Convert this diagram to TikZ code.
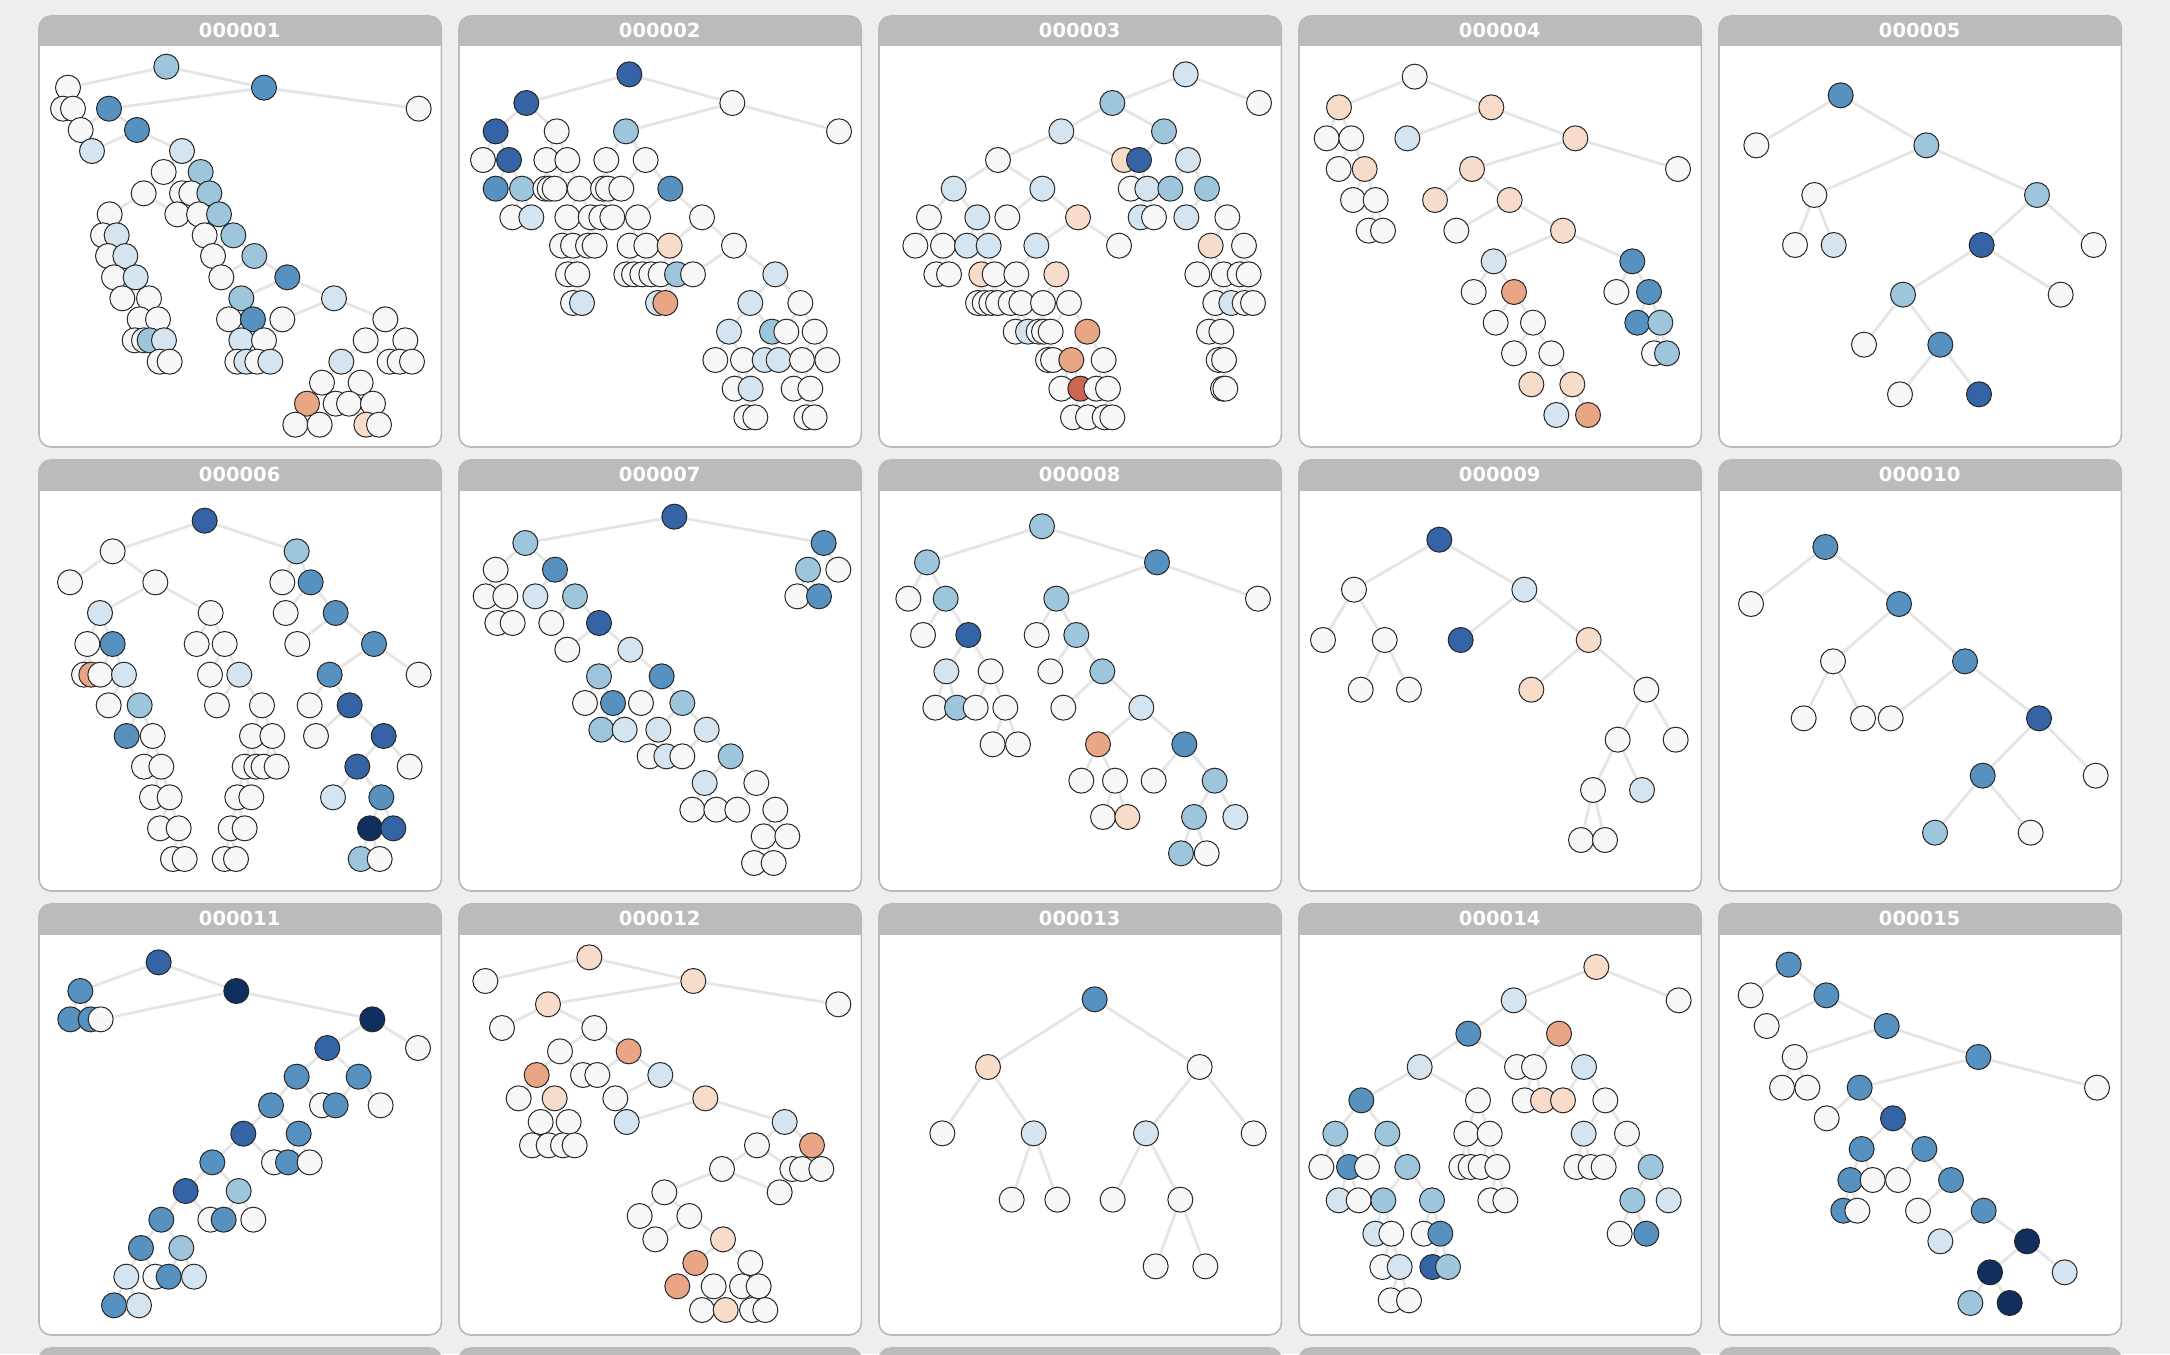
\documentclass[tikz,border=0pt]{standalone}
\usepackage{fontspec}
\setmainfont{DejaVu Sans}
\definecolor{colW}{HTML}{F7F7F7}
\definecolor{colB1}{HTML}{D4E4F0}
\definecolor{colB2}{HTML}{9DC6DD}
\definecolor{colB3}{HTML}{5691BF}
\definecolor{colB4}{HTML}{3464A6}
\definecolor{colB5}{HTML}{102F5E}
\definecolor{colR1}{HTML}{F7DCC9}
\definecolor{colR2}{HTML}{E8A684}
\definecolor{colR3}{HTML}{CB6651}
\definecolor{colE}{HTML}{E5E5E5}
\definecolor{bgcol}{HTML}{EEEEEE}
\definecolor{headgray}{HTML}{BBBBBB}
\definecolor{framegray}{HTML}{B9B9B9}
\pgfdeclarelayer{bgl}
\pgfdeclarelayer{edl}
\pgfsetlayers{bgl,edl,main}
\tikzset{
  nd/.style={circle,draw=black!85,line width=1pt,minimum size=25pt,inner sep=0pt},
  nw/.style={nd,fill=colW}, nb1/.style={nd,fill=colB1}, nb2/.style={nd,fill=colB2},
  nb3/.style={nd,fill=colB3}, nb4/.style={nd,fill=colB4}, nb5/.style={nd,fill=colB5},
  nr1/.style={nd,fill=colR1}, nr2/.style={nd,fill=colR2}, nr3/.style={nd,fill=colR3},
  edge/.style={draw=colE,line width=2.8pt},
  ttl/.style={text=white,font=\bfseries\fontsize{19.5}{20}\selectfont,inner sep=0pt},
  pscope/.style={x=0.333333pt,y=-0.333333pt}
}
\makeatletter
\newcommand\edgelist{}
\newcommand\rootnd[3]{\node[#2] (#1) at (#3) {};}
\newcommand\kid[4]{\node[#3] (#1) at (#4) {};\g@addto@macro\edgelist{\draw[edge] (#2) -- (#1);}}
\makeatother
\newcommand\panelframe[3]{%
  \begin{scope}[shift={(#1,#2)},pscope]
  \fill[white,rounded corners=12pt] (3,3) rectangle (1210,1296);
  \begin{scope}\clip (0,0) rectangle (1215,93);
  \fill[headgray,rounded corners=12pt] (3,3) rectangle (1210,400);
  \end{scope}
  \draw[framegray,line width=1.6pt,rounded corners=12pt] (3,3) rectangle (1210,1296);
  \node[ttl] at (605,47) {#3};
  \end{scope}}
\begin{document}
\begin{tikzpicture}[x=1pt,y=-1pt]
\useasboundingbox (0,0) rectangle (2170,1354);
\begin{pgfonlayer}{bgl}
\fill[bgcol] (0,0) rectangle (2170,1354);
\panelframe{38}{15}{000001}
\panelframe{458}{15}{000002}
\panelframe{878}{15}{000003}
\panelframe{1298}{15}{000004}
\panelframe{1718}{15}{000005}
\panelframe{38}{459}{000006}
\panelframe{458}{459}{000007}
\panelframe{878}{459}{000008}
\panelframe{1298}{459}{000009}
\panelframe{1718}{459}{000010}
\panelframe{38}{903}{000011}
\panelframe{458}{903}{000012}
\panelframe{878}{903}{000013}
\panelframe{1298}{903}{000014}
\panelframe{1718}{903}{000015}
\panelframe{38}{1347}{}
\panelframe{458}{1347}{}
\panelframe{878}{1347}{}
\panelframe{1298}{1347}{}
\panelframe{1718}{1347}{}
\end{pgfonlayer}
% ---------- panel 1
\begin{scope}[shift={(38,15)},pscope]
\rootnd{a0}{nb2}{385,155}
\kid{a1a}{a0}{nw}{90,218}
\kid{a1b}{a0}{nb3}{678,218}
\kid{a2a}{a1a}{nw}{75,281}
\kid{a2b}{a1a}{nw}{105,281}
\kid{a2c}{a1b}{nb3}{213,281}
\kid{a2d}{a1b}{nw}{1142,281}
\kid{a3a}{a2c}{nw}{128,345}
\kid{a3b}{a2c}{nb3}{297,345}
\kid{a4a}{a3b}{nb1}{162,408}
\kid{a4b}{a3b}{nb1}{432,408}
\kid{a5a}{a4b}{nw}{377,471}
\kid{a5b}{a4b}{nb2}{488,471}
\kid{a6a}{a5a}{nw}{317,535}
\kid{a6b}{a5a}{nw}{432,535}
\kid{a6c}{a5b}{nw}{460,535}
\kid{a6d}{a5b}{nb2}{514,535}
\kid{a7a}{a6a}{nw}{215,598}
\kid{a7b}{a6a}{nw}{418,598}
\kid{a7c}{a6d}{nw}{483,598}
\kid{a7d}{a6d}{nb2}{543,598}
\kid{a8a}{a7a}{nw}{195,661}
\kid{a8b}{a7a}{nb1}{236,661}
\kid{a8c}{a7d}{nw}{500,661}
\kid{a8d}{a7d}{nb2}{586,661}
\kid{a9a}{a8b}{nw}{210,723}
\kid{a9b}{a8b}{nb1}{262,723}
\kid{a9c}{a8d}{nw}{525,723}
\kid{a9d}{a8d}{nb2}{649,723}
\kid{a10a}{a9b}{nw}{228,787}
\kid{a10b}{a9b}{nb1}{293,787}
\kid{a10c}{a9d}{nw}{550,787}
\kid{a10d}{a9d}{nb3}{748,787}
\kid{a11a}{a10b}{nw}{253,850}
\kid{a11b}{a10b}{nw}{333,850}
\kid{a11c}{a10d}{nb2}{610,850}
\kid{a11d}{a10d}{nb1}{888,850}
\kid{a12a}{a11b}{nw}{305,913}
\kid{a12b}{a11b}{nw}{360,913}
\kid{a12c}{a11c}{nw}{573,913}
\kid{a12d}{a11c}{nb3}{645,913}
\kid{a12e}{a11d}{nw}{733,913}
\kid{a12f}{a11d}{nw}{1042,913}
\kid{a13a}{a12a}{nw}{290,976}
\kid{a13b}{a12a}{nw}{318,976}
\kid{a13c}{a12b}{nb2}{335,976}
\kid{a13d}{a12b}{nb1}{378,976}
\kid{a13e}{a12d}{nb1}{610,976}
\kid{a13f}{a12d}{nw}{678,976}
\kid{a13g}{a12f}{nw}{983,976}
\kid{a13h}{a12f}{nw}{1102,976}
\kid{a14a}{a13d}{nw}{365,1040}
\kid{a14b}{a13d}{nw}{395,1040}
\kid{a14c}{a13e}{nw}{598,1040}
\kid{a14d}{a13e}{nb1}{625,1040}
\kid{a14e}{a13f}{nw}{658,1040}
\kid{a14f}{a13f}{nb1}{697,1040}
\kid{a14g}{a13g}{nb1}{910,1040}
\kid{a14h}{a13g}{nw}{1055,1040}
\kid{a14i}{a13h}{nw}{1085,1040}
\kid{a14j}{a13h}{nw}{1122,1040}
\kid{a15a}{a14g}{nw}{852,1103}
\kid{a15b}{a14g}{nw}{968,1103}
\kid{a16a}{a15a}{nr2}{807,1166}
\kid{a16b}{a15a}{nw}{893,1166}
\kid{a16c}{a15b}{nw}{933,1166}
\kid{a16d}{a15b}{nw}{1005,1166}
\kid{a17a}{a16a}{nw}{772,1229}
\kid{a17b}{a16a}{nw}{845,1229}
\kid{a17c}{a16d}{nr1}{985,1229}
\kid{a17d}{a16d}{nw}{1023,1229}
\end{scope}
% ---------- panel 2
\begin{scope}[shift={(458,15)},pscope]
\rootnd{b0}{nb4}{514,178}
\kid{b1a}{b0}{nb4}{205,264}
\kid{b1b}{b0}{nw}{823,264}
\kid{b2a}{b1a}{nb4}{113,349}
\kid{b2b}{b1a}{nw}{296,349}
\kid{b2c}{b1b}{nb2}{504,349}
\kid{b2d}{b1b}{nw}{1143,349}
\kid{b3a}{b2a}{nw}{75,435}
\kid{b3b}{b2a}{nb4}{153,435}
\kid{b3c}{b2b}{nw}{265,435}
\kid{b3d}{b2b}{nw}{328,435}
\kid{b3e}{b2c}{nw}{445,435}
\kid{b3f}{b2c}{nw}{563,435}
\kid{b4a}{b3b}{nb3}{113,521}
\kid{b4b}{b3b}{nb2}{192,521}
\kid{b4c}{b3c}{nw}{262,521}
\kid{b4d}{b3c}{nw}{275,521}
\kid{b4e}{b3d}{nw}{290,521}
\kid{b4f}{b3d}{nw}{365,521}
\kid{b4g}{b3e}{nw}{435,521}
\kid{b4h}{b3e}{nw}{450,521}
\kid{b4i}{b3f}{nw}{490,521}
\kid{b4j}{b3f}{nb3}{637,521}
\kid{b5a}{b4b}{nw}{163,607}
\kid{b5b}{b4b}{nb1}{220,607}
\kid{b5c}{b4f}{nw}{328,607}
\kid{b5d}{b4f}{nw}{398,607}
\kid{b5e}{b4h}{nw}{430,607}
\kid{b5f}{b4h}{nw}{463,607}
\kid{b5g}{b4j}{nw}{540,607}
\kid{b5h}{b4j}{nw}{732,607}
\kid{b6a}{b5c}{nw}{312,692}
\kid{b6b}{b5c}{nw}{345,692}
\kid{b6c}{b5d}{nw}{390,692}
\kid{b6d}{b5d}{nw}{410,692}
\kid{b6e}{b5g}{nw}{515,692}
\kid{b6f}{b5g}{nw}{565,692}
\kid{b6g}{b5h}{nr1}{635,692}
\kid{b6h}{b5h}{nw}{828,692}
\kid{b7a}{b6b}{nw}{330,778}
\kid{b7b}{b6b}{nw}{358,778}
\kid{b7c}{b6e}{nw}{505,778}
\kid{b7d}{b6e}{nw}{528,778}
\kid{b7e}{b6f}{nw}{553,778}
\kid{b7f}{b6f}{nw}{580,778}
\kid{b7g}{b6g}{nw}{608,778}
\kid{b7h}{b6g}{nb2}{657,778}
\kid{b7i}{b6h}{nw}{705,778}
\kid{b7j}{b6h}{nb1}{952,778}
\kid{b8a}{b7b}{nw}{345,864}
\kid{b8b}{b7b}{nb1}{372,864}
\kid{b8c}{b7h}{nb1}{600,864}
\kid{b8d}{b7h}{nr2}{622,864}
\kid{b8e}{b7j}{nb1}{877,864}
\kid{b8f}{b7j}{nw}{1027,864}
\kid{b9a}{b8e}{nb1}{813,950}
\kid{b9b}{b8e}{nb2}{942,950}
\kid{b9c}{b8f}{nw}{985,950}
\kid{b9d}{b8f}{nw}{1070,950}
\kid{b10a}{b9a}{nw}{772,1035}
\kid{b10b}{b9a}{nw}{855,1035}
\kid{b10c}{b9b}{nb1}{920,1035}
\kid{b10d}{b9b}{nb1}{962,1035}
\kid{b10e}{b9d}{nw}{1032,1035}
\kid{b10f}{b9d}{nw}{1108,1035}
\kid{b11a}{b10b}{nw}{830,1121}
\kid{b11b}{b10b}{nb1}{878,1121}
\kid{b11c}{b10e}{nw}{1007,1121}
\kid{b11d}{b10e}{nw}{1057,1121}
\kid{b12a}{b11b}{nw}{865,1207}
\kid{b12b}{b11b}{nw}{892,1207}
\kid{b12c}{b11d}{nw}{1045,1207}
\kid{b12d}{b11d}{nw}{1070,1207}
\end{scope}
% ---------- panel 3
\begin{scope}[shift={(878,15)},pscope]
\rootnd{c0}{nb1}{923,178}
\kid{c1a}{c0}{nb2}{703,264}
\kid{c1b}{c0}{nw}{1143,264}
\kid{c2a}{c1a}{nb1}{550,349}
\kid{c2b}{c1a}{nb2}{858,349}
\kid{c3a}{c2a}{nw}{360,435}
\kid{c3b}{c2a}{nr1}{738,435}
\kid{c3c}{c2b}{nb4}{783,435}
\kid{c3d}{c2b}{nb1}{930,435}
\kid{c4a}{c3a}{nb1}{227,521}
\kid{c4b}{c3a}{nb1}{493,521}
\kid{c4c}{c3c}{nw}{758,521}
\kid{c4d}{c3c}{nb1}{808,521}
\kid{c4e}{c3d}{nb2}{877,521}
\kid{c4f}{c3d}{nb2}{987,521}
\kid{c5a}{c4a}{nw}{153,607}
\kid{c5b}{c4a}{nb1}{298,607}
\kid{c5c}{c4b}{nw}{388,607}
\kid{c5d}{c4b}{nr1}{600,607}
\kid{c5e}{c4d}{nb1}{788,607}
\kid{c5f}{c4d}{nw}{828,607}
\kid{c5g}{c4f}{nb1}{925,607}
\kid{c5h}{c4f}{nw}{1048,607}
\kid{c6a}{c5a}{nw}{112,692}
\kid{c6b}{c5a}{nw}{195,692}
\kid{c6c}{c5b}{nb1}{267,692}
\kid{c6d}{c5b}{nb1}{332,692}
\kid{c6e}{c5d}{nb1}{475,692}
\kid{c6f}{c5d}{nw}{723,692}
\kid{c6g}{c5h}{nr1}{998,692}
\kid{c6h}{c5h}{nw}{1098,692}
\kid{c7a}{c6b}{nw}{175,778}
\kid{c7b}{c6b}{nw}{213,778}
\kid{c7c}{c6d}{nr1}{310,778}
\kid{c7d}{c6d}{nw}{350,778}
\kid{c7e}{c6e}{nw}{415,778}
\kid{c7f}{c6e}{nr1}{535,778}
\kid{c7g}{c6g}{nw}{958,778}
\kid{c7h}{c6g}{nw}{1037,778}
\kid{c7i}{c6h}{nw}{1085,778}
\kid{c7j}{c6h}{nw}{1112,778}
\kid{c8a}{c7c}{nw}{300,864}
\kid{c8b}{c7c}{nw}{320,864}
\kid{c8c}{c7d}{nw}{340,864}
\kid{c8d}{c7d}{nw}{360,864}
\kid{c8e}{c7e}{nw}{398,864}
\kid{c8f}{c7e}{nw}{430,864}
\kid{c8g}{c7f}{nw}{495,864}
\kid{c8h}{c7f}{nw}{573,864}
\kid{c8i}{c7h}{nw}{1012,864}
\kid{c8j}{c7h}{nb1}{1060,864}
\kid{c8k}{c7j}{nw}{1100,864}
\kid{c8l}{c7j}{nw}{1125,864}
\kid{c9a}{c8f}{nw}{413,950}
\kid{c9b}{c8f}{nb1}{450,950}
\kid{c9c}{c8g}{nw}{482,950}
\kid{c9d}{c8g}{nw}{498,950}
\kid{c9e}{c8h}{nw}{518,950}
\kid{c9f}{c8h}{nr2}{628,950}
\kid{c9g}{c8i}{nw}{993,950}
\kid{c9h}{c8i}{nw}{1030,950}
\kid{c10a}{c9e}{nw}{510,1035}
\kid{c10b}{c9e}{nw}{525,1035}
\kid{c10c}{c9f}{nr2}{580,1035}
\kid{c10d}{c9f}{nw}{677,1035}
\kid{c10e}{c9h}{nw}{1022,1035}
\kid{c10f}{c9h}{nw}{1038,1035}
\kid{c11a}{c10c}{nw}{550,1121}
\kid{c11b}{c10c}{nr3}{607,1121}
\kid{c11c}{c10d}{nw}{655,1121}
\kid{c11d}{c10d}{nw}{690,1121}
\kid{c11e}{c10f}{nw}{1035,1121}
\kid{c11f}{c10f}{nw}{1042,1121}
\kid{c12a}{c11b}{nw}{585,1207}
\kid{c12b}{c11b}{nw}{630,1207}
\kid{c12c}{c11d}{nw}{680,1207}
\kid{c12d}{c11d}{nw}{703,1207}
\end{scope}
% ---------- panel 4
\begin{scope}[shift={(1298,15)},pscope]
\rootnd{d0}{nw}{350,185}
\kid{d1a}{d0}{nr1}{123,277}
\kid{d1b}{d0}{nr1}{580,277}
\kid{d2a}{d1a}{nw}{86,370}
\kid{d2b}{d1a}{nw}{160,370}
\kid{d2c}{d1b}{nb1}{328,370}
\kid{d2d}{d1b}{nr1}{832,370}
\kid{d3a}{d2b}{nw}{122,462}
\kid{d3b}{d2b}{nr1}{200,462}
\kid{d3c}{d2d}{nr1}{522,462}
\kid{d3d}{d2d}{nw}{1140,462}
\kid{d4a}{d3b}{nw}{165,555}
\kid{d4b}{d3b}{nw}{233,555}
\kid{d4c}{d3c}{nr1}{411,555}
\kid{d4d}{d3c}{nr1}{635,555}
\kid{d5a}{d4b}{nw}{212,647}
\kid{d5b}{d4b}{nw}{255,647}
\kid{d5c}{d4d}{nw}{475,647}
\kid{d5d}{d4d}{nr1}{795,647}
\kid{d6a}{d5d}{nb1}{587,739}
\kid{d6b}{d5d}{nb3}{1003,739}
\kid{d7a}{d6a}{nw}{527,831}
\kid{d7b}{d6a}{nr2}{648,831}
\kid{d7c}{d6b}{nw}{955,831}
\kid{d7d}{d6b}{nb3}{1053,831}
\kid{d8a}{d7b}{nw}{593,923}
\kid{d8b}{d7b}{nw}{705,923}
\kid{d8c}{d7d}{nb3}{1018,923}
\kid{d8d}{d7d}{nb2}{1087,923}
\kid{d9a}{d8b}{nw}{648,1015}
\kid{d9b}{d8b}{nw}{760,1015}
\kid{d9c}{d8d}{nw}{1068,1015}
\kid{d9d}{d8d}{nb2}{1107,1015}
\kid{d10a}{d9b}{nr1}{700,1108}
\kid{d10b}{d9b}{nr1}{823,1108}
\kid{d11a}{d10b}{nb1}{775,1200}
\kid{d11b}{d10b}{nr2}{870,1200}
\end{scope}
% ---------- panel 5
\begin{scope}[shift={(1718,15)},pscope]
\rootnd{e0}{nb3}{368,241}
\kid{e1a}{e0}{nw}{115,391}
\kid{e1b}{e0}{nb2}{625,391}
\kid{e2a}{e1b}{nw}{289,540}
\kid{e2b}{e1b}{nb2}{957,540}
\kid{e3a}{e2a}{nw}{231,690}
\kid{e3b}{e2a}{nb1}{347,690}
\kid{e3c}{e2b}{nb4}{791,690}
\kid{e3d}{e2b}{nw}{1127,690}
\kid{e4a}{e3c}{nb2}{555,839}
\kid{e4b}{e3c}{nw}{1028,839}
\kid{e5a}{e4a}{nw}{438,989}
\kid{e5b}{e4a}{nb3}{667,989}
\kid{e6a}{e5b}{nw}{546,1138}
\kid{e6b}{e5b}{nb4}{783,1138}
\end{scope}
% ---------- panel 6
\begin{scope}[shift={(38,459)},pscope]
\rootnd{f0}{nb4}{500,185}
\kid{f1a}{f0}{nw}{224,277}
\kid{f1b}{f0}{nb2}{776,277}
\kid{f2a}{f1a}{nw}{96,370}
\kid{f2b}{f1a}{nw}{352,370}
\kid{f2c}{f1b}{nw}{733,370}
\kid{f2d}{f1b}{nb3}{818,370}
\kid{f3a}{f2b}{nb1}{186,462}
\kid{f3b}{f2b}{nw}{518,462}
\kid{f3c}{f2d}{nw}{743,462}
\kid{f3d}{f2d}{nb3}{893,462}
\kid{f4a}{f3a}{nw}{148,555}
\kid{f4b}{f3a}{nb3}{224,555}
\kid{f4c}{f3b}{nw}{476,555}
\kid{f4d}{f3b}{nw}{560,555}
\kid{f4e}{f3d}{nw}{778,555}
\kid{f4f}{f3d}{nb3}{1008,555}
\kid{f5a}{f4a}{nw}{138,647}
\kid{f5b}{f4a}{nr2}{160,647}
\kid{f5c}{f4b}{nw}{187,647}
\kid{f5d}{f4b}{nb1}{258,647}
\kid{f5e}{f4d}{nw}{516,647}
\kid{f5f}{f4d}{nb1}{604,647}
\kid{f5g}{f4f}{nb3}{875,647}
\kid{f5h}{f4f}{nw}{1142,647}
\kid{f6a}{f5d}{nw}{212,739}
\kid{f6b}{f5d}{nb2}{305,739}
\kid{f6c}{f5f}{nw}{537,739}
\kid{f6d}{f5f}{nw}{672,739}
\kid{f6e}{f5g}{nw}{815,739}
\kid{f6f}{f5g}{nb4}{935,739}
\kid{f7a}{f6b}{nb3}{266,831}
\kid{f7b}{f6b}{nw}{344,831}
\kid{f7c}{f6d}{nw}{642,831}
\kid{f7d}{f6d}{nw}{703,831}
\kid{f7e}{f6f}{nw}{834,831}
\kid{f7f}{f6f}{nb4}{1037,831}
\kid{f8a}{f7b}{nw}{318,923}
\kid{f8b}{f7b}{nw}{370,923}
\kid{f8c}{f7c}{nw}{620,923}
\kid{f8d}{f7c}{nw}{655,923}
\kid{f8e}{f7d}{nw}{677,923}
\kid{f8f}{f7d}{nw}{716,923}
\kid{f8g}{f7f}{nb4}{958,923}
\kid{f8h}{f7f}{nw}{1115,923}
\kid{f9a}{f8b}{nw}{342,1015}
\kid{f9b}{f8b}{nw}{395,1015}
\kid{f9c}{f8c}{nw}{598,1015}
\kid{f9d}{f8c}{nw}{640,1015}
\kid{f9e}{f8g}{nb1}{885,1015}
\kid{f9f}{f8g}{nb3}{1030,1015}
\kid{f10a}{f9b}{nw}{366,1108}
\kid{f10b}{f9b}{nw}{422,1108}
\kid{f10c}{f9c}{nw}{578,1108}
\kid{f10d}{f9c}{nw}{620,1108}
\kid{f10e}{f9f}{nb5}{996,1108}
\kid{f10f}{f9f}{nb4}{1066,1108}
\kid{f11a}{f10b}{nw}{405,1200}
\kid{f11b}{f10b}{nw}{440,1200}
\kid{f11c}{f10c}{nw}{560,1200}
\kid{f11d}{f10c}{nw}{594,1200}
\kid{f11e}{f10e}{nb2}{968,1200}
\kid{f11f}{f10e}{nw}{1025,1200}
\end{scope}
% ---------- panel 7
\begin{scope}[shift={(458,459)},pscope]
\rootnd{g0}{nb4}{649,173}
\kid{g1a}{g0}{nb2}{202,252}
\kid{g1b}{g0}{nb3}{1097,252}
\kid{g2a}{g1a}{nw}{113,332}
\kid{g2b}{g1a}{nb3}{291,332}
\kid{g2c}{g1b}{nb2}{1050,332}
\kid{g2d}{g1b}{nw}{1141,332}
\kid{g3a}{g2a}{nw}{83,412}
\kid{g3b}{g2a}{nw}{142,412}
\kid{g3c}{g2b}{nb1}{232,412}
\kid{g3d}{g2b}{nb2}{351,412}
\kid{g3e}{g2c}{nw}{1018,412}
\kid{g3f}{g2c}{nb3}{1083,412}
\kid{g4a}{g3b}{nw}{118,492}
\kid{g4b}{g3b}{nw}{164,492}
\kid{g4c}{g3d}{nw}{280,492}
\kid{g4d}{g3d}{nb4}{423,492}
\kid{g5a}{g4d}{nw}{328,572}
\kid{g5b}{g4d}{nb1}{517,572}
\kid{g6a}{g5b}{nb2}{423,652}
\kid{g6b}{g5b}{nb3}{611,652}
\kid{g7a}{g6a}{nw}{381,732}
\kid{g7b}{g6a}{nb3}{465,732}
\kid{g7c}{g6b}{nw}{549,732}
\kid{g7d}{g6b}{nb2}{673,732}
\kid{g8a}{g7b}{nb2}{430,812}
\kid{g8b}{g7b}{nb1}{500,812}
\kid{g8c}{g7d}{nb1}{601,812}
\kid{g8d}{g7d}{nb1}{746,812}
\kid{g9a}{g8c}{nw}{575,892}
\kid{g9b}{g8c}{nb1}{625,892}
\kid{g9c}{g8d}{nw}{673,892}
\kid{g9d}{g8d}{nb2}{818,892}
\kid{g10a}{g9d}{nb1}{740,972}
\kid{g10b}{g9d}{nw}{895,972}
\kid{g11a}{g10a}{nw}{703,1052}
\kid{g11b}{g10a}{nw}{775,1052}
\kid{g11c}{g10b}{nw}{838,1052}
\kid{g11d}{g10b}{nw}{952,1052}
\kid{g12a}{g11d}{nw}{917,1132}
\kid{g12b}{g11d}{nw}{988,1132}
\kid{g13a}{g12a}{nw}{888,1212}
\kid{g13b}{g12a}{nw}{947,1212}
\end{scope}
% ---------- panel 8
\begin{scope}[shift={(878,459)},pscope]
\rootnd{h0}{nb2}{492,202}
\kid{h1a}{h0}{nb2}{147,310}
\kid{h1b}{h0}{nb3}{837,310}
\kid{h2a}{h1a}{nw}{91,419}
\kid{h2b}{h1a}{nb2}{203,419}
\kid{h2c}{h1b}{nb2}{535,419}
\kid{h2d}{h1b}{nw}{1140,419}
\kid{h3a}{h2b}{nw}{135,528}
\kid{h3b}{h2b}{nb4}{271,528}
\kid{h3c}{h2c}{nw}{476,528}
\kid{h3d}{h2c}{nb2}{595,528}
\kid{h4a}{h3b}{nb1}{205,637}
\kid{h4b}{h3b}{nw}{338,637}
\kid{h4c}{h3d}{nw}{517,637}
\kid{h4d}{h3d}{nb2}{673,637}
\kid{h5a}{h4a}{nw}{172,746}
\kid{h5b}{h4a}{nb2}{237,746}
\kid{h5c}{h4b}{nw}{293,746}
\kid{h5d}{h4b}{nw}{382,746}
\kid{h5e}{h4d}{nw}{556,746}
\kid{h5f}{h4d}{nb1}{790,746}
\kid{h6a}{h5d}{nw}{344,856}
\kid{h6b}{h5d}{nw}{420,856}
\kid{h6c}{h5f}{nr2}{660,856}
\kid{h6d}{h5f}{nb3}{919,856}
\kid{h7a}{h6c}{nw}{610,965}
\kid{h7b}{h6c}{nw}{711,965}
\kid{h7c}{h6d}{nw}{827,965}
\kid{h7d}{h6d}{nb2}{1010,965}
\kid{h8a}{h7b}{nw}{675,1074}
\kid{h8b}{h7b}{nr1}{748,1074}
\kid{h8c}{h7d}{nb2}{948,1074}
\kid{h8d}{h7d}{nb1}{1072,1074}
\kid{h9a}{h8c}{nb2}{909,1183}
\kid{h9b}{h8c}{nw}{986,1183}
\end{scope}
% ---------- panel 9
\begin{scope}[shift={(1298,459)},pscope]
\rootnd{i0}{nb4}{424,242}
\kid{i1a}{i0}{nw}{168,392}
\kid{i1b}{i0}{nb1}{679,392}
\kid{i2a}{i1a}{nw}{75,543}
\kid{i2b}{i1a}{nw}{260,543}
\kid{i2c}{i1b}{nb4}{488,543}
\kid{i2d}{i1b}{nr1}{872,543}
\kid{i3a}{i2b}{nw}{188,692}
\kid{i3b}{i2b}{nw}{333,692}
\kid{i3c}{i2d}{nr1}{700,692}
\kid{i3d}{i2d}{nw}{1045,692}
\kid{i4a}{i3d}{nw}{959,842}
\kid{i4b}{i3d}{nw}{1133,842}
\kid{i5a}{i4a}{nw}{885,993}
\kid{i5b}{i4a}{nb1}{1032,993}
\kid{i6a}{i5a}{nw}{849,1143}
\kid{i6b}{i5a}{nw}{921,1143}
\end{scope}
% ---------- panel 10
\begin{scope}[shift={(1718,459)},pscope]
\rootnd{j0}{nb3}{322,264}
\kid{j1a}{j0}{nw}{99,435}
\kid{j1b}{j0}{nb3}{543,435}
\kid{j2a}{j1b}{nw}{345,607}
\kid{j2b}{j1b}{nb3}{741,607}
\kid{j3a}{j2a}{nw}{257,778}
\kid{j3b}{j2a}{nw}{435,778}
\kid{j3c}{j2b}{nw}{518,778}
\kid{j3d}{j2b}{nb4}{963,778}
\kid{j4a}{j3d}{nb3}{794,950}
\kid{j4b}{j3d}{nw}{1133,950}
\kid{j5a}{j4a}{nb2}{651,1121}
\kid{j5b}{j4a}{nw}{938,1121}
\end{scope}
% ---------- panel 11
\begin{scope}[shift={(38,903)},pscope]
\rootnd{k0}{nb4}{362,178}
\kid{k1a}{k0}{nb3}{127,264}
\kid{k1b}{k0}{nb5}{595,264}
\kid{k2a}{k1a}{nb3}{97,349}
\kid{k2b}{k1a}{nb3}{158,349}
\kid{k2c}{k1b}{nw}{188,349}
\kid{k2d}{k1b}{nb5}{1003,349}
\kid{k3a}{k2d}{nb4}{868,435}
\kid{k3b}{k2d}{nw}{1140,435}
\kid{k4a}{k3a}{nb3}{776,521}
\kid{k4b}{k3a}{nb3}{962,521}
\kid{k5a}{k4a}{nb3}{699,607}
\kid{k5b}{k4a}{nw}{852,607}
\kid{k5c}{k4b}{nb3}{893,607}
\kid{k5d}{k4b}{nw}{1028,607}
\kid{k6a}{k5a}{nb4}{616,692}
\kid{k6b}{k5a}{nb3}{782,692}
\kid{k7a}{k6a}{nb3}{523,778}
\kid{k7b}{k6a}{nw}{708,778}
\kid{k7c}{k6b}{nb3}{750,778}
\kid{k7d}{k6b}{nw}{815,778}
\kid{k8a}{k7a}{nb4}{443,864}
\kid{k8b}{k7a}{nb2}{602,864}
\kid{k9a}{k8a}{nb3}{370,950}
\kid{k9b}{k8a}{nw}{517,950}
\kid{k9c}{k8b}{nb3}{557,950}
\kid{k9d}{k8b}{nw}{646,950}
\kid{k10a}{k9a}{nb3}{309,1035}
\kid{k10b}{k9a}{nb2}{430,1035}
\kid{k11a}{k10a}{nb1}{265,1121}
\kid{k11b}{k10a}{nw}{352,1121}
\kid{k11c}{k10b}{nb3}{392,1121}
\kid{k11d}{k10b}{nb1}{468,1121}
\kid{k12a}{k11a}{nb3}{228,1207}
\kid{k12b}{k11a}{nb1}{303,1207}
\end{scope}
% ---------- panel 12
\begin{scope}[shift={(458,903)},pscope]
\rootnd{l0}{nr1}{394,163}
\kid{l1a}{l0}{nw}{82,234}
\kid{l1b}{l0}{nr1}{706,234}
\kid{l2a}{l1b}{nr1}{270,304}
\kid{l2b}{l1b}{nw}{1141,304}
\kid{l3a}{l2a}{nw}{132,375}
\kid{l3b}{l2a}{nw}{409,375}
\kid{l4a}{l3b}{nw}{306,445}
\kid{l4b}{l3b}{nr2}{512,445}
\kid{l5a}{l4a}{nr2}{236,516}
\kid{l5b}{l4a}{nw}{375,516}
\kid{l5c}{l4b}{nw}{418,516}
\kid{l5d}{l4b}{nb1}{607,516}
\kid{l6a}{l5a}{nw}{182,586}
\kid{l6b}{l5a}{nr1}{290,586}
\kid{l6c}{l5d}{nw}{472,586}
\kid{l6d}{l5d}{nr1}{742,586}
\kid{l7a}{l6b}{nw}{248,657}
\kid{l7b}{l6b}{nw}{332,657}
\kid{l7c}{l6d}{nb1}{506,657}
\kid{l7d}{l6d}{nb1}{980,657}
\kid{l8a}{l7a}{nw}{222,727}
\kid{l8b}{l7a}{nw}{272,727}
\kid{l8c}{l7b}{nw}{315,727}
\kid{l8d}{l7b}{nw}{350,727}
\kid{l8e}{l7d}{nw}{897,727}
\kid{l8f}{l7d}{nr2}{1062,727}
\kid{l9a}{l8e}{nw}{792,798}
\kid{l9b}{l8e}{nw}{1003,798}
\kid{l9c}{l8f}{nw}{1032,798}
\kid{l9d}{l8f}{nw}{1090,798}
\kid{l10a}{l9a}{nw}{619,868}
\kid{l10b}{l9a}{nw}{965,868}
\kid{l11a}{l10a}{nw}{545,939}
\kid{l11b}{l10a}{nw}{694,939}
\kid{l12a}{l11b}{nw}{592,1009}
\kid{l12b}{l11b}{nr1}{795,1009}
\kid{l13a}{l12b}{nr2}{712,1080}
\kid{l13b}{l12b}{nw}{877,1080}
\kid{l14a}{l13a}{nr2}{658,1150}
\kid{l14b}{l13a}{nw}{767,1150}
\kid{l14c}{l13b}{nw}{852,1150}
\kid{l14d}{l13b}{nw}{902,1150}
\kid{l15a}{l14b}{nw}{732,1221}
\kid{l15b}{l14b}{nr1}{803,1221}
\kid{l15c}{l14d}{nw}{882,1221}
\kid{l15d}{l14d}{nw}{922,1221}
\end{scope}
% ---------- panel 13
\begin{scope}[shift={(878,903)},pscope]
\rootnd{m0}{nb3}{650,289}
\kid{m1a}{m0}{nr1}{330,492}
\kid{m1b}{m0}{nw}{965,492}
\kid{m2a}{m1a}{nw}{193,691}
\kid{m2b}{m1a}{nb1}{467,691}
\kid{m2c}{m1b}{nb1}{804,691}
\kid{m2d}{m1b}{nw}{1127,691}
\kid{m3a}{m2b}{nw}{401,890}
\kid{m3b}{m2b}{nw}{538,890}
\kid{m3c}{m2c}{nw}{704,890}
\kid{m3d}{m2c}{nw}{907,890}
\kid{m4a}{m3d}{nw}{833,1090}
\kid{m4b}{m3d}{nw}{982,1090}
\end{scope}
% ---------- panel 14
\begin{scope}[shift={(1298,903)},pscope]
\rootnd{n0}{nr1}{895,192}
\kid{n1a}{n0}{nb1}{647,292}
\kid{n1b}{n0}{nw}{1142,292}
\kid{n2a}{n1a}{nb3}{511,392}
\kid{n2b}{n1a}{nr2}{783,392}
\kid{n3a}{n2a}{nb1}{365,492}
\kid{n3b}{n2a}{nw}{657,492}
\kid{n3c}{n2b}{nw}{708,492}
\kid{n3d}{n2b}{nb1}{858,492}
\kid{n4a}{n3a}{nb3}{190,592}
\kid{n4b}{n3a}{nw}{540,592}
\kid{n4c}{n3c}{nw}{680,592}
\kid{n4d}{n3c}{nr1}{735,592}
\kid{n4e}{n3d}{nr1}{795,592}
\kid{n4f}{n3d}{nw}{922,592}
\kid{n5a}{n4a}{nb2}{112,692}
\kid{n5b}{n4a}{nb2}{268,692}
\kid{n5c}{n4b}{nw}{505,692}
\kid{n5d}{n4b}{nw}{575,692}
\kid{n5e}{n4f}{nb1}{857,692}
\kid{n5f}{n4f}{nw}{987,692}
\kid{n6a}{n5a}{nw}{70,792}
\kid{n6b}{n5a}{nb3}{153,792}
\kid{n6c}{n5b}{nw}{207,792}
\kid{n6d}{n5b}{nb2}{328,792}
\kid{n6e}{n5c}{nw}{490,792}
\kid{n6f}{n5c}{nw}{518,792}
\kid{n6g}{n5d}{nw}{548,792}
\kid{n6h}{n5d}{nw}{598,792}
\kid{n6i}{n5e}{nw}{835,792}
\kid{n6j}{n5e}{nw}{878,792}
\kid{n6k}{n5f}{nw}{917,792}
\kid{n6l}{n5f}{nb2}{1058,792}
\kid{n7a}{n6b}{nb1}{122,892}
\kid{n7b}{n6b}{nw}{182,892}
\kid{n7c}{n6d}{nb2}{256,892}
\kid{n7d}{n6d}{nb2}{402,892}
\kid{n7e}{n6h}{nw}{577,892}
\kid{n7f}{n6h}{nw}{622,892}
\kid{n7g}{n6l}{nb2}{1003,892}
\kid{n7h}{n6l}{nb1}{1112,892}
\kid{n8a}{n7c}{nb1}{232,992}
\kid{n8b}{n7c}{nw}{280,992}
\kid{n8c}{n7d}{nw}{377,992}
\kid{n8d}{n7d}{nb3}{427,992}
\kid{n8e}{n7g}{nw}{965,992}
\kid{n8f}{n7g}{nb3}{1045,992}
\kid{n9a}{n8b}{nw}{253,1092}
\kid{n9b}{n8b}{nb1}{305,1092}
\kid{n9c}{n8d}{nb4}{403,1092}
\kid{n9d}{n8d}{nb2}{450,1092}
\kid{n10a}{n9b}{nw}{278,1192}
\kid{n10b}{n9b}{nw}{333,1192}
\end{scope}
% ---------- panel 15
\begin{scope}[shift={(1718,903)},pscope]
\rootnd{o0}{nb3}{212,185}
\kid{o1a}{o0}{nw}{98,277}
\kid{o1b}{o0}{nb3}{325,277}
\kid{o2a}{o1b}{nw}{146,369}
\kid{o2b}{o1b}{nb3}{506,369}
\kid{o3a}{o2b}{nw}{230,462}
\kid{o3b}{o2b}{nb3}{781,462}
\kid{o4a}{o3a}{nw}{192,554}
\kid{o4b}{o3a}{nw}{268,554}
\kid{o4c}{o3b}{nb3}{425,554}
\kid{o4d}{o3b}{nw}{1137,554}
\kid{o5a}{o4c}{nw}{326,646}
\kid{o5b}{o4c}{nb4}{525,646}
\kid{o6a}{o5b}{nb3}{431,738}
\kid{o6b}{o5b}{nb3}{619,738}
\kid{o7a}{o6a}{nb3}{397,831}
\kid{o7b}{o6a}{nw}{464,831}
\kid{o7c}{o6b}{nw}{540,831}
\kid{o7d}{o6b}{nb3}{699,831}
\kid{o8a}{o7a}{nb3}{376,923}
\kid{o8b}{o7a}{nw}{418,923}
\kid{o8c}{o7d}{nw}{600,923}
\kid{o8d}{o7d}{nb3}{797,923}
\kid{o9a}{o8d}{nb1}{667,1015}
\kid{o9b}{o8d}{nb5}{927,1015}
\kid{o10a}{o9b}{nb5}{816,1108}
\kid{o10b}{o9b}{nb1}{1040,1108}
\kid{o11a}{o10a}{nb2}{757,1200}
\kid{o11b}{o10a}{nb5}{875,1200}
\end{scope}
% ---------- all connectors, under the nodes
\begin{pgfonlayer}{edl}
\edgelist
\end{pgfonlayer}
\end{tikzpicture}
\end{document}
